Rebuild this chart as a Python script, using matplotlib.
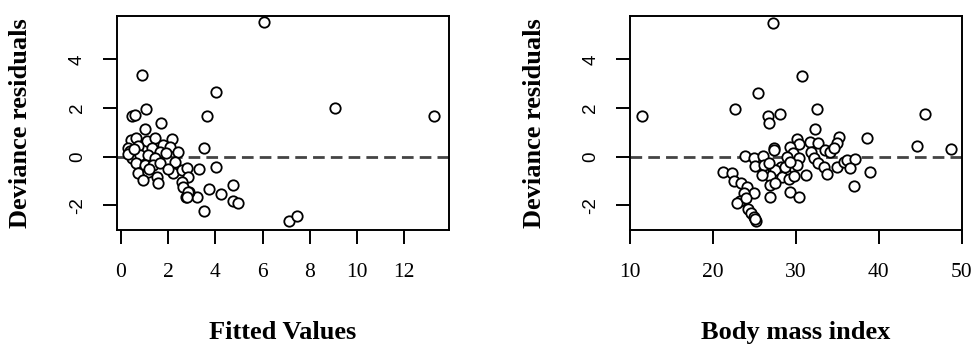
"""
Deviance residuals against fitted values and body mass index.
"""

import matplotlib

matplotlib.use("Agg")
import matplotlib.pyplot as plt

# Left panel: fitted values vs deviance residuals.
fitted = [
    6.07, 0.88, 4.03, 0.49, 0.58, 1.05, 9.08, 13.28, 3.63, 1.71,
    1.02, 3.53, 3.32, 4.03, 3.73, 4.76, 4.24, 4.76, 4.94, 3.21,
    2.75, 2.90, 3.53, 7.13, 7.44,
    0.42, 0.66, 1.09, 1.44, 2.18, 1.79, 2.08, 2.40, 0.31, 0.73,
    1.30, 1.65, 0.45, 0.81, 1.16, 1.44, 0.38, 0.66, 1.02, 1.37,
    1.65, 2.29, 0.73, 1.16, 1.51, 0.95, 1.58, 2.22, 2.57, 2.78,
    2.85, 2.57, 2.64, 2.85, 2.78, 0.31, 0.55, 1.90, 1.20, 2.00,
]
resid_fitted = [
    5.56, 3.36, 2.67, 1.67, 1.71, 1.96, 1.99, 1.67, 1.67, 1.37,
    1.14, 0.34, -0.49, -0.41, -1.33, -1.17, -1.54, -1.82, -1.89, -1.65,
    -1.67, -1.44, -2.24, -2.63, -2.46,
    0.69, 0.75, 0.64, 0.78, 0.73, 0.48, 0.41, 0.21, 0.34, 0.45,
    0.34, 0.21, -0.04, 0.07, 0.07, -0.07, 0.23, -0.27, -0.34, -0.34,
    -0.27, -0.21, -0.69, -0.62, -0.82, -0.96, -1.10, -0.69, -0.55, -0.48,
    -0.82, -1.03, -1.23, -1.44, -1.65, 0.10, 0.30, 0.15, -0.50, -0.50,
]

# Right panel: body mass index vs deviance residuals.
bmi = [
    27.22, 30.69, 25.44, 22.62, 32.58, 11.49, 26.65, 28.06, 26.73, 45.56,
    32.30, 38.55, 35.20, 35.00, 44.60, 48.71, 27.34, 23.83, 24.92, 26.05,
    30.08, 30.36, 29.35, 31.69, 32.66, 33.47, 34.11, 34.60, 31.77, 29.63,
    28.95, 30.36, 32.18, 32.66, 30.16, 33.39, 35.00, 35.81, 36.21, 37.10,
    36.53, 38.95, 37.02, 33.71, 31.25, 28.75, 28.15, 27.54, 28.35, 29.15,
    29.76, 26.94, 26.05, 25.12, 26.13, 26.73, 25.97, 26.94, 26.85, 29.35,
    30.36, 21.21, 22.30, 22.50, 23.43, 24.11, 24.92, 23.71, 23.23, 22.90,
    24.00, 24.27, 24.60, 24.92, 25.24, 25.12, 27.40, 28.70, 29.30, 27.50,
]
resid_bmi = [
    5.51, 3.33, 2.63, 1.95, 1.95, 1.69, 1.67, 1.74, 1.37, 1.74,
    1.14, 0.75, 0.82, 0.58, 0.45, 0.32, 0.34, 0.04, -0.04, 0.04,
    0.71, 0.51, 0.41, 0.59, 0.55, 0.27, 0.21, 0.34, 0.21, 0.14,
    0.00, -0.07, -0.07, -0.25, -0.34, -0.41, -0.41, -0.21, -0.14, -0.11,
    -0.45, -0.62, -1.21, -0.71, -0.75, -0.62, -0.41, -0.55, -0.82, -0.93,
    -0.78, -0.80, -0.55, -0.38, -0.34, -0.27, -0.75, -1.17, -1.67, -1.44,
    -1.67, -0.62, -0.69, -0.99, -1.10, -1.23, -1.48, -1.51, -1.81, -1.89,
    -1.71, -2.17, -2.33, -2.50, -2.67, -2.58, 0.28, -0.41, -0.21, -1.10,
]

y_ticks = [-2, 0, 2, 4]
fitted_ticks = [0, 2, 4, 6, 8, 10, 12]
bmi_ticks = [10, 20, 30, 40, 50]

plt.rcParams["font.family"] = ["Liberation Serif", "DejaVu Serif"]
plt.rcParams["axes.unicode_minus"] = False

fig = plt.figure(figsize=(9.73, 3.46), dpi=100)
ax_left = fig.add_axes([0.1199, 0.3353, 0.3418, 0.6185])
ax_right = fig.add_axes([0.6475, 0.3353, 0.3409, 0.6185])

panels = [
    (ax_left, fitted, resid_fitted, fitted_ticks, (-0.18, 13.91), "Fitted Values"),
    (ax_right, bmi, resid_bmi, bmi_ticks, (10, 50), "Body mass index"),
]

for ax, x, y, xticks, xlim, xlabel in panels:
    ax.axhline(0, color="#444444", linewidth=2.0, dashes=(4.2, 2.2), zorder=1)
    ax.scatter(
        x, y, s=56, facecolor="white", edgecolor="black",
        linewidth=1.3, zorder=3, clip_on=False,
    )
    ax.set_xlim(*xlim)
    ax.set_ylim(-3.02, 5.79)
    ax.set_xticks(xticks)
    ax.set_yticks(y_ticks)

    for spine in ax.spines.values():
        spine.set_linewidth(1.4)

    ax.tick_params(length=10, width=1.4, labelsize=15.5, direction="out")
    ax.tick_params(axis="x", pad=14)
    ax.tick_params(axis="y", pad=12, labelrotation=90, labelsize=13.5)
    for lab in ax.get_yticklabels():
        lab.set_verticalalignment("center")
        lab.set_family(["Liberation Sans", "DejaVu Sans"])

    ax.set_xlabel(xlabel, fontsize=19, fontweight="bold", va="center")
    ax.xaxis.set_label_coords(0.5, -0.48)
    ax.set_ylabel("Deviance residuals", fontsize=19, fontweight="bold", va="center")
    ax.yaxis.set_label_coords(-0.288, 0.5)

fig.savefig("out.png", dpi=100)
